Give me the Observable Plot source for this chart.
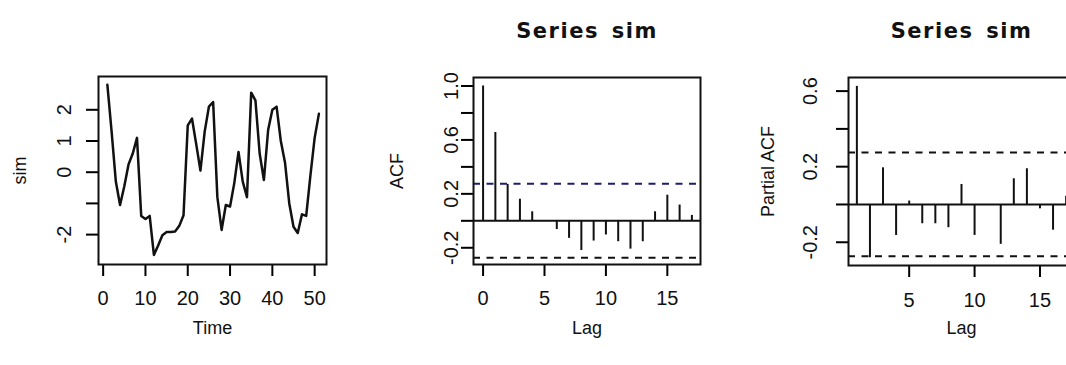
<!DOCTYPE html>
<html>
<head>
<meta charset="utf-8">
<script src="https://cdn.jsdelivr.net/npm/d3@7"></script>
<script src="https://cdn.jsdelivr.net/npm/@observablehq/plot@0.6"></script>
<style>
  html, body { margin: 0; padding: 0; background: #fff; }
  body { width: 1066px; height: 365px; overflow: hidden; position: relative; }
  .panel { position: absolute; top: 0; }
  .panel svg { max-width: none !important; }
</style>
</head>
<body>
<div id="p1" class="panel" style="left:0px;width:360px"></div>
<div id="p2" class="panel" style="left:360px;width:350px"></div>
<div id="p3" class="panel" style="left:710px;width:380px"></div>
<script>
// ---- data ----
const simValues = [2.8, 1.3, -0.3, -1.05, -0.45, 0.25, 0.6, 1.1, -1.4, -1.5,
  -1.4, -2.65, -2.35, -2.02, -1.92, -1.92, -1.9, -1.72, -1.38, 1.5,
  1.72, 0.9, 0.05, 1.3, 2.1, 2.25, -0.8, -1.85, -1.05, -1.1,
  -0.35, 0.65, -0.3, -0.8, 2.55, 2.3, 0.6, -0.25, 1.35, 2.0,
  2.1, 1.0, 0.3, -1.0, -1.75, -1.95, -1.35, -1.4, -0.1, 1.1, 1.87];
const simXTicks = [0, 10, 20, 30, 40, 50];
const simYTicks = [-2, -1, 0, 1, 2];
const simYLabels = [-2, 0, 1, 2];

const acfLags = [0, 1, 2, 3, 4, 5, 6, 7, 8, 9, 10, 11, 12, 13, 14, 15, 16, 17];
const acfValues = [1.0, 0.655, 0.27, 0.16, 0.067, -0.005, -0.065, -0.13, -0.22, -0.15,
  -0.105, -0.155, -0.21, -0.155, 0.067, 0.19, 0.117, 0.04];
const acfXTicks = [0, 5, 10, 15];
const acfYTicks = [-0.2, 0, 0.2, 0.4, 0.6, 0.8, 1.0];
const acfYLabels = [-0.2, 0.2, 0.6, 1.0];

const pacfLags = [1, 2, 3, 4, 5, 6, 7, 8, 9, 10, 11, 12, 13, 14, 15, 16, 17];
const pacfValues = [0.625, -0.282, 0.194, -0.164, 0.018, -0.102, -0.102, -0.123, 0.106, -0.164,
  -0.005, -0.211, 0.136, 0.189, -0.023, -0.136, 0.044];
const pacfXTicks = [5, 10, 15];
const pacfYTicks = [-0.2, 0, 0.2, 0.4, 0.6];
const pacfYLabels = [-0.2, 0.2, 0.6];

const ciLimit = 0.2745;
const mainTitle = "Series sim";

// ---- styling ----
const FONT = "'Liberation Sans', Arial, Helvetica, sans-serif";
const TITLEFONT = "'DejaVu Sans', 'Liberation Sans', sans-serif";
const TICKFS = 20;
const fmt1 = d => d.toFixed(1);
const fmt0 = d => String(d);

function commonMarks(o) {
  return [
    Plot.axisX({ticks: o.xTicks, tickSize: 12, strokeWidth: 2, tickFormat: () => "", label: null}),
    Plot.axisY({ticks: o.yTicks, tickSize: 12, strokeWidth: 2, tickFormat: () => "", label: null}),
    Plot.text(o.xTicks, {x: d => d, text: o.xFmt, frameAnchor: "bottom", dy: o.xLabDy, lineAnchor: "middle", fontSize: TICKFS, fill: "#111"}),
    Plot.text(o.yLabels, {y: d => d, text: o.yFmt, frameAnchor: "left", dx: o.yLabDx, rotate: -90, textAnchor: "middle", lineAnchor: "middle", fontSize: TICKFS, fill: "#111"}),
    Plot.text([o.xTitle], {frameAnchor: "bottom", dy: o.xTitleDy, text: d => d, lineAnchor: "middle", fontSize: 18, fill: "#111"}),
    Plot.text([o.yTitle], {frameAnchor: "left", dx: o.yTitleDx, rotate: -90, text: d => d, textAnchor: "middle", lineAnchor: "middle", fontSize: 18, fill: "#111"}),
    Plot.frame({stroke: "#111", strokeWidth: 2})
  ];
}

function titleMark() {
  return Plot.text([mainTitle], {frameAnchor: "top", dy: -40, text: d => d, lineAnchor: "bottom",
    fontSize: 21, fontWeight: "bold", fontFamily: TITLEFONT, fill: "#111"});
}

function spaceTitle(svg) {
  svg.querySelectorAll("text").forEach(t => {
    if (t.textContent === mainTitle) {
      t.style.letterSpacing = "1.5px";
      t.style.wordSpacing = "4px";
    }
  });
}

// ---- panel 1: time series ----
const p1 = Plot.plot({
  width: 360, height: 365,
  marginLeft: 98, marginRight: 34, marginTop: 76, marginBottom: 101,
  style: {fontFamily: FONT, background: "transparent", overflow: "visible", maxWidth: "none"},
  x: {domain: [-1.1, 52.8]},
  y: {domain: [-2.958, 3.067]},
  marks: [
    Plot.line(simValues, {x: (d, i) => i + 1, y: d => d, stroke: "#111", strokeWidth: 2.5}),
    ...commonMarks({xTicks: simXTicks, yTicks: simYTicks, yLabels: simYLabels, xFmt: fmt0, yFmt: fmt0,
      xLabDy: 34, yLabDx: -34, xTitle: "Time", yTitle: "sim", xTitleDy: 64, yTitleDx: -78})
  ]
});
document.getElementById("p1").append(p1);

// ---- panel 2: ACF ----
const acfData = acfLags.map((l, i) => ({lag: l, v: acfValues[i]}));
const p2 = Plot.plot({
  width: 350, height: 365,
  marginLeft: 113, marginRight: 10, marginTop: 77, marginBottom: 101,
  style: {fontFamily: FONT, background: "transparent", overflow: "visible", maxWidth: "none"},
  x: {domain: [-0.78, 17.7]},
  y: {domain: [-0.324, 1.063]},
  marks: [
    Plot.ruleY([ciLimit], {stroke: "#1d1d72", strokeWidth: 2, strokeDasharray: "7,6.5"}),
    Plot.ruleY([-ciLimit], {stroke: "#111", strokeWidth: 2, strokeDasharray: "7,6.5"}),
    Plot.ruleY([0], {stroke: "#111", strokeWidth: 2}),
    Plot.ruleX(acfData, {x: "lag", y1: 0, y2: "v", stroke: "#111", strokeWidth: 2}),
    titleMark(),
    ...commonMarks({xTicks: acfXTicks, yTicks: acfYTicks, yLabels: acfYLabels, xFmt: fmt0, yFmt: fmt1,
      xLabDy: 34, yLabDx: -22, xTitle: "Lag", yTitle: "ACF", xTitleDy: 64, yTitleDx: -76})
  ]
});
spaceTitle(p2);
document.getElementById("p2").append(p2);

// ---- panel 3: PACF ----
const pacfData = pacfLags.map((l, i) => ({lag: l, v: pacfValues[i]}));
const p3 = Plot.plot({
  width: 380, height: 365,
  marginLeft: 138, marginRight: 16, marginTop: 77, marginBottom: 100,
  style: {fontFamily: FONT, background: "transparent", overflow: "visible", maxWidth: "none"},
  x: {domain: [0.36, 17.64]},
  y: {domain: [-0.323, 0.672]},
  marks: [
    Plot.ruleY([ciLimit], {stroke: "#111", strokeWidth: 2, strokeDasharray: "7,6.5"}),
    Plot.ruleY([-ciLimit], {stroke: "#111", strokeWidth: 2, strokeDasharray: "7,6.5"}),
    Plot.ruleY([0], {stroke: "#111", strokeWidth: 2}),
    Plot.ruleX(pacfData, {x: "lag", y1: 0, y2: "v", stroke: "#111", strokeWidth: 2}),
    titleMark(),
    ...commonMarks({xTicks: pacfXTicks, yTicks: pacfYTicks, yLabels: pacfYLabels, xFmt: fmt0, yFmt: fmt1,
      xLabDy: 35, yLabDx: -38, xTitle: "Lag", yTitle: "Partial ACF", xTitleDy: 63, yTitleDx: -80})
  ]
});
spaceTitle(p3);
document.getElementById("p3").append(p3);
</script>
</body>
</html>
